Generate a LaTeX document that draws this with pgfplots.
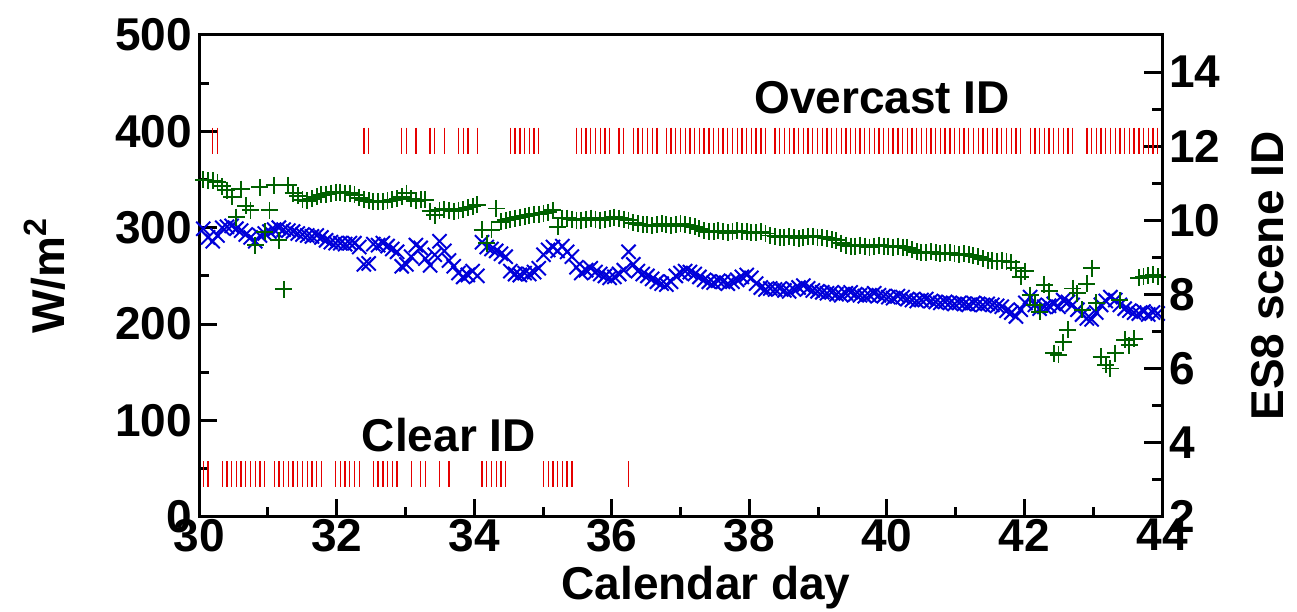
\documentclass[border=0pt]{standalone}
\usepackage{fontspec}
\setmainfont{Liberation Sans}
\usepackage{pgfplots}
\pgfplotsset{compat=1.18}
\usepackage{pgfplotstable}
\usetikzlibrary{calc}

\definecolor{dgreen}{rgb}{0,0.38,0}
\definecolor{mblue}{rgb}{0,0,0.85}
\definecolor{mred}{rgb}{0.9,0,0}

\pgfplotstableread{
t g b s
30.060 350 299 3
30.129 349 290 3
30.197 349 286 12
30.266 347 292 12
30.335 343 300 3
30.404 339 301 3
30.472 332 302 3
30.541 311 299 3
30.610 340 297 3
30.678 323 293 3
30.747 318 290 3
30.816 282 286 3
30.884 342 292 3
30.953 296 294 3
31.022 318 296 nan
31.091 344 298 3
31.159 287 300 3
31.228 236 298 3
31.297 344 297 3
31.365 336 296 3
31.434 333 294 3
31.503 329 293 3
31.571 328 292 3
31.640 330 291 3
31.709 332 292 3
31.778 334 290 3
31.846 335 287 nan
31.915 336 285 nan
31.984 337 284 3
32.052 337 284 3
32.121 336 283 3
32.190 336 284 3
32.258 334 284 3
32.327 331 280 3
32.396 329 262 12
32.465 328 263 12
32.533 327 283 3
32.602 327 282 3
32.671 327 284 3
32.739 328 281 3
32.808 329 278 3
32.877 330 275 3
32.945 332 260 12
33.014 336 262 12
33.083 330 270 3
33.152 328 282 12
33.220 329 279 3
33.289 329 268 3
33.358 317 261 12
33.426 313 272 12
33.495 318 286 3
33.564 319 276 12
33.632 318 266 3
33.701 317 260 nan
33.770 318 253 12
33.839 319 249 12
33.907 321 251 12
33.976 322 255 nan
34.045 324 250 12
34.113 298 285 3
34.182 284 280 3
34.251 298 278 3
34.319 320 276 3
34.388 306 273 3
34.457 308 270 3
34.526 309 255 12
34.594 310 252 12
34.663 311 251 12
34.732 312 253 12
34.800 313 252 12
34.869 314 254 12
34.938 314 258 12
35.006 315 272 3
35.075 316 277 3
35.144 318 280 3
35.213 301 276 3
35.281 310 281 3
35.350 310 275 3
35.419 309 270 3
35.487 308 259 12
35.556 308 253 12
35.625 309 256 12
35.693 310 258 12
35.762 309 254 12
35.831 308 252 12
35.900 309 250 12
35.968 310 248 12
36.037 311 249 nan
36.106 310 252 12
36.174 309 256 12
36.243 308 275 3
36.312 305 262 12
36.380 304 255 12
36.449 303 252 12
36.518 303 250 12
36.587 302 247 12
36.655 303 244 12
36.724 304 242 nan
36.793 303 241 12
36.861 302 244 12
36.930 303 250 12
36.999 304 253 12
37.067 303 255 12
37.136 302 254 12
37.205 301 252 12
37.274 299 249 12
37.342 297 246 12
37.411 296 244 12
37.480 296 243 12
37.548 297 245 12
37.617 296 244 12
37.686 295 242 12
37.754 296 244 12
37.823 297 246 12
37.892 296 249 12
37.961 296 251 12
38.029 295 248 12
38.098 295 242 12
38.167 296 238 12
38.235 294 236 12
38.304 292 237 nan
38.373 291 236 12
38.441 290 237 12
38.510 290 235 12
38.579 291 234 12
38.648 290 236 12
38.716 289 238 12
38.785 290 240 12
38.854 291 237 12
38.922 291 235 12
38.991 290 234 12
39.060 290 233 12
39.128 289 232 12
39.197 288 233 12
39.266 287 231 12
39.335 284 230 12
39.403 282 232 12
39.472 281 233 12
39.541 281 231 12
39.609 282 230 12
39.678 281 229 12
39.747 280 230 12
39.815 281 232 12
39.884 282 230 12
39.953 281 229 12
40.022 281 228 12
40.090 280 227 12
40.159 281 229 12
40.228 280 228 12
40.296 279 226 12
40.365 277 225 12
40.434 275 224 12
40.502 274 225 12
40.571 274 226 12
40.640 275 224 12
40.709 274 223 12
40.777 273 222 12
40.846 274 223 12
40.915 274 222 12
40.983 273 221 12
41.052 272 222 12
41.121 273 221 12
41.189 272 220 12
41.258 271 222 12
41.327 270 221 12
41.396 268 220 12
41.464 266 221 12
41.533 266 220 12
41.602 265 219 12
41.670 266 218 12
41.739 265 214 12
41.808 264 212 12
41.876 258 208 12
41.945 249 215 12
42.014 255 222 nan
42.083 230 228 12
42.151 220 220 12
42.220 213 216 12
42.289 241 218 12
42.357 234 219 12
42.426 170 221 12
42.495 168 218 12
42.563 181 225 12
42.632 194 223 12
42.701 237 220 12
42.770 232 215 nan
42.838 215 210 nan
42.907 242 206 12
42.976 258 205 12
43.044 222 212 12
43.113 166 220 12
43.182 158 224 12
43.250 154 228 12
43.319 170 225 12
43.388 225 220 12
43.457 184 216 12
43.525 178 214 12
43.594 185 212 12
43.663 248 211 12
43.731 249 213 12
43.800 250 210 12
43.869 251 212 12
43.937 249 211 12
44.006 252 210 12
}\data

\begin{document}
\begin{tikzpicture}[font=\fontsize{23}{27}\selectfont\bfseries]
\pgfplotsset{
  common/.style={
    scale only axis, width=481.5pt, height=241pt,
    xmin=30, xmax=44,
    tick align=inside,
    major tick length=9pt, minor tick length=5pt,
    tick style={black, line width=1.5pt},
    axis line style={line width=1.5pt},
    tick label style={font=\fontsize{23}{27}\selectfont\bfseries},
    label style={font=\fontsize{23}{27}\selectfont\bfseries},
    /pgf/number format/assume math mode=true,
  }
}
\begin{axis}[common,
  ymin=0, ymax=500,
  xtick={30,32,...,44}, minor xtick={31,33,...,43},
  ytick={0,100,...,500}, minor ytick={50,150,...,450},
  xtick pos=left, ytick pos=left,
  xticklabel style={yshift=2.5pt},
  xlabel={Calendar day},
  xlabel style={at={(axis description cs:0.5265,-0.172)}, anchor=base},
  ylabel={W/m\textsuperscript{2}},
  ylabel style={at={(axis description cs:-0.16,0.5)}, anchor=center},
]
\addplot[only marks, mark=x, mark size=5pt, color=mblue, line width=1pt] table[x=t, y=b] {\data};
\addplot[only marks, mark=+, mark size=4.25pt, color=dgreen, line width=0.95pt] table[x=t, y=g] {\data};
\node[anchor=base] at (axis cs:39.93,419) {Overcast ID};
\node[anchor=base] at (axis cs:33.63,67.7) {Clear ID};
\coordinate (SW) at (rel axis cs:0,0);
\coordinate (NE) at (rel axis cs:1,1);
\end{axis}
\begin{axis}[common,
  ymin=2, ymax=15,
  axis x line=none, axis y line*=right,
  ytick={2,4,...,14}, minor ytick={3,5,...,13},
  ylabel={ES8 scene ID},
  ylabel style={at={(axis description cs:1.11,0.5)}, anchor=center, inner sep=0pt},
]
\addplot[only marks, mark=|, mark size=6.5pt, color=mred, line width=0.65pt, mark options={yshift=2.8pt}] table[x=t, y=s] {\data};
\end{axis}
\pgfresetboundingbox
\path[use as bounding box] ($(SW)+(-99.6pt,-47.5pt)$) rectangle ($(NE)+(67.5pt,17.5pt)$);
\end{tikzpicture}
\end{document}
